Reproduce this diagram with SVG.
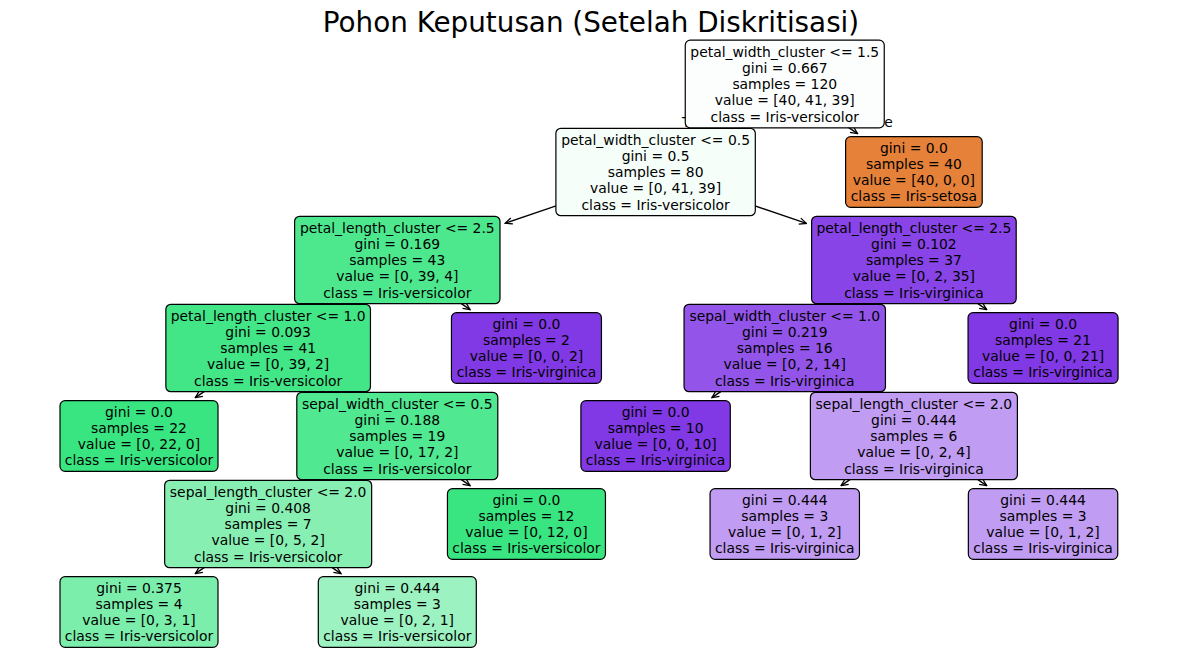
<svg xmlns="http://www.w3.org/2000/svg" width="1182" height="666" viewBox="0 0 1182 666">
<style>
text{font-family:"DejaVu Sans","Liberation Sans",sans-serif;fill:#000}
.t{font-size:13.9px;text-anchor:middle}
.title{font-size:27.8px;text-anchor:middle}
.lbl{font-size:13.9px}
.box{stroke:#000;stroke-width:1.2}
.edge{fill:none;stroke:#000;stroke-width:1.3;marker-end:url(#ah)}
</style>
<defs>
<marker id="ah" viewBox="-9 -5 10 10" refX="0" refY="0" markerWidth="10" markerHeight="10" markerUnits="userSpaceOnUse" orient="auto">
<path d="M-7,-3.2 L0,0 L-7,3.2" fill="none" stroke="#000" stroke-width="1.3"/>
</marker>
</defs>
<rect width="1182" height="666" fill="#fff"/>
<text class="title" x="591" y="32">Pohon Keputusan (Setelah Diskritisasi)</text>

<g id="connectors">
<path class="edge" d="M784.75,84 L724.2,125.2"/>
<path class="edge" d="M784.75,84 L857.6,133.6"/>
<path class="edge" d="M655.6,172 L505.2,223.2"/>
<path class="edge" d="M655.6,172 L806.4,223.4"/>
<path class="edge" d="M397.3,260 L336.8,301.2"/>
<path class="edge" d="M397.3,260 L470.1,309.6"/>
<path class="edge" d="M913.9,260 L853.4,301.2"/>
<path class="edge" d="M913.9,260 L986.7,309.6"/>
<path class="edge" d="M268.15,348 L195.3,397.6"/>
<path class="edge" d="M268.15,348 L328.7,389.2"/>
<path class="edge" d="M784.75,348 L711.9,397.6"/>
<path class="edge" d="M784.75,348 L845.3,389.2"/>
<path class="edge" d="M397.3,436 L336.8,477.2"/>
<path class="edge" d="M397.3,436 L470.1,485.6"/>
<path class="edge" d="M913.9,436 L841.1,485.6"/>
<path class="edge" d="M913.9,436 L986.7,485.6"/>
<path class="edge" d="M268.15,524 L195.3,573.6"/>
<path class="edge" d="M268.15,524 L341,573.6"/>
</g>

<g id="edge-labels">
<text class="lbl" x="682" y="127.3">True</text>
<text class="lbl" x="858" y="127.3">False</text>
</g>

<g id="n17"><rect class="box" x="60" y="576.7" width="158" height="70.6" rx="5" fill="#7beeab"/>
<text class="t"><tspan x="139" y="592.6">gini = 0.375</tspan><tspan x="139" y="608.9">samples = 4</tspan><tspan x="139" y="625.1">value = [0, 3, 1]</tspan><tspan x="139" y="641.4">class = Iris-versicolor</tspan></text></g>
<g id="n18"><rect class="box" x="318.3" y="576.7" width="158" height="70.6" rx="5" fill="#9cf2c0"/>
<text class="t"><tspan x="397.3" y="592.6">gini = 0.444</tspan><tspan x="397.3" y="608.9">samples = 3</tspan><tspan x="397.3" y="625.1">value = [0, 2, 1]</tspan><tspan x="397.3" y="641.4">class = Iris-versicolor</tspan></text></g>

<g id="n13"><rect class="box" x="164.65" y="480.3" width="207" height="87.4" rx="5" fill="#88efb3"/>
<text class="t"><tspan x="268.15" y="496.5">sepal_length_cluster &lt;= 2.0</tspan><tspan x="268.15" y="512.75">gini = 0.408</tspan><tspan x="268.15" y="529">samples = 7</tspan><tspan x="268.15" y="545.25">value = [0, 5, 2]</tspan><tspan x="268.15" y="561.5">class = Iris-versicolor</tspan></text></g>
<g id="n14"><rect class="box" x="447.45" y="488.7" width="158" height="70.6" rx="5" fill="#39e581"/>
<text class="t"><tspan x="526.45" y="504.6">gini = 0.0</tspan><tspan x="526.45" y="520.9">samples = 12</tspan><tspan x="526.45" y="537.1">value = [0, 12, 0]</tspan><tspan x="526.45" y="553.4">class = Iris-versicolor</tspan></text></g>
<g id="n15"><rect class="box" x="710.05" y="488.7" width="149.4" height="70.6" rx="5" fill="#c09cf2"/>
<text class="t"><tspan x="784.75" y="504.6">gini = 0.444</tspan><tspan x="784.75" y="520.9">samples = 3</tspan><tspan x="784.75" y="537.1">value = [0, 1, 2]</tspan><tspan x="784.75" y="553.4">class = Iris-virginica</tspan></text></g>
<g id="n16"><rect class="box" x="968.35" y="488.7" width="149.4" height="70.6" rx="5" fill="#c09cf2"/>
<text class="t"><tspan x="1043.05" y="504.6">gini = 0.444</tspan><tspan x="1043.05" y="520.9">samples = 3</tspan><tspan x="1043.05" y="537.1">value = [0, 1, 2]</tspan><tspan x="1043.05" y="553.4">class = Iris-virginica</tspan></text></g>

<g id="n9"><rect class="box" x="60" y="400.7" width="158" height="70.6" rx="5" fill="#39e581"/>
<text class="t"><tspan x="139" y="416.6">gini = 0.0</tspan><tspan x="139" y="432.9">samples = 22</tspan><tspan x="139" y="449.1">value = [0, 22, 0]</tspan><tspan x="139" y="465.4">class = Iris-versicolor</tspan></text></g>
<g id="n10"><rect class="box" x="296.8" y="392.3" width="201" height="87.4" rx="5" fill="#50e890"/>
<text class="t"><tspan x="397.3" y="408.5">sepal_width_cluster &lt;= 0.5</tspan><tspan x="397.3" y="424.75">gini = 0.188</tspan><tspan x="397.3" y="441">samples = 19</tspan><tspan x="397.3" y="457.25">value = [0, 17, 2]</tspan><tspan x="397.3" y="473.5">class = Iris-versicolor</tspan></text></g>
<g id="n11"><rect class="box" x="580.9" y="400.7" width="149.4" height="70.6" rx="5" fill="#8139e5"/>
<text class="t"><tspan x="655.6" y="416.6">gini = 0.0</tspan><tspan x="655.6" y="432.9">samples = 10</tspan><tspan x="655.6" y="449.1">value = [0, 0, 10]</tspan><tspan x="655.6" y="465.4">class = Iris-virginica</tspan></text></g>
<g id="n12"><rect class="box" x="810.4" y="392.3" width="207" height="87.4" rx="5" fill="#c09cf2"/>
<text class="t"><tspan x="913.9" y="408.5">sepal_length_cluster &lt;= 2.0</tspan><tspan x="913.9" y="424.75">gini = 0.444</tspan><tspan x="913.9" y="441">samples = 6</tspan><tspan x="913.9" y="457.25">value = [0, 2, 4]</tspan><tspan x="913.9" y="473.5">class = Iris-virginica</tspan></text></g>

<g id="n5"><rect class="box" x="165.85" y="304.3" width="204.6" height="87.4" rx="5" fill="#43e687"/>
<text class="t"><tspan x="268.15" y="320.5">petal_length_cluster &lt;= 1.0</tspan><tspan x="268.15" y="336.75">gini = 0.093</tspan><tspan x="268.15" y="353">samples = 41</tspan><tspan x="268.15" y="369.25">value = [0, 39, 2]</tspan><tspan x="268.15" y="385.5">class = Iris-versicolor</tspan></text></g>
<g id="n6"><rect class="box" x="451.45" y="312.7" width="150" height="70.6" rx="5" fill="#8139e5"/>
<text class="t"><tspan x="526.45" y="328.6">gini = 0.0</tspan><tspan x="526.45" y="344.9">samples = 2</tspan><tspan x="526.45" y="361.1">value = [0, 0, 2]</tspan><tspan x="526.45" y="377.4">class = Iris-virginica</tspan></text></g>
<g id="n7"><rect class="box" x="684.05" y="304.3" width="201.4" height="87.4" rx="5" fill="#9355e9"/>
<text class="t"><tspan x="784.75" y="320.5">sepal_width_cluster &lt;= 1.0</tspan><tspan x="784.75" y="336.75">gini = 0.219</tspan><tspan x="784.75" y="353">samples = 16</tspan><tspan x="784.75" y="369.25">value = [0, 2, 14]</tspan><tspan x="784.75" y="385.5">class = Iris-virginica</tspan></text></g>
<g id="n8"><rect class="box" x="968.05" y="312.7" width="150" height="70.6" rx="5" fill="#8139e5"/>
<text class="t"><tspan x="1043.05" y="328.6">gini = 0.0</tspan><tspan x="1043.05" y="344.9">samples = 21</tspan><tspan x="1043.05" y="361.1">value = [0, 0, 21]</tspan><tspan x="1043.05" y="377.4">class = Iris-virginica</tspan></text></g>

<g id="n3"><rect class="box" x="294.6" y="216.3" width="205.4" height="87.4" rx="5" fill="#4de88e"/>
<text class="t"><tspan x="397.3" y="232.5">petal_length_cluster &lt;= 2.5</tspan><tspan x="397.3" y="248.75">gini = 0.169</tspan><tspan x="397.3" y="265">samples = 43</tspan><tspan x="397.3" y="281.25">value = [0, 39, 4]</tspan><tspan x="397.3" y="297.5">class = Iris-versicolor</tspan></text></g>
<g id="n4"><rect class="box" x="811.6" y="216.3" width="204.6" height="87.4" rx="5" fill="#8844e6"/>
<text class="t"><tspan x="913.9" y="232.5">petal_length_cluster &lt;= 2.5</tspan><tspan x="913.9" y="248.75">gini = 0.102</tspan><tspan x="913.9" y="265">samples = 37</tspan><tspan x="913.9" y="281.25">value = [0, 2, 35]</tspan><tspan x="913.9" y="297.5">class = Iris-virginica</tspan></text></g>

<g id="n1"><rect class="box" x="555.9" y="128.3" width="199.4" height="87.4" rx="5" fill="#f5fef9"/>
<text class="t"><tspan x="655.6" y="144.5">petal_width_cluster &lt;= 0.5</tspan><tspan x="655.6" y="160.75">gini = 0.5</tspan><tspan x="655.6" y="177">samples = 80</tspan><tspan x="655.6" y="193.25">value = [0, 41, 39]</tspan><tspan x="655.6" y="209.5">class = Iris-versicolor</tspan></text></g>
<g id="n2"><rect class="box" x="845.6" y="136.7" width="136.6" height="70.6" rx="5" fill="#e58139"/>
<text class="t"><tspan x="913.9" y="152.6">gini = 0.0</tspan><tspan x="913.9" y="168.9">samples = 40</tspan><tspan x="913.9" y="185.1">value = [40, 0, 0]</tspan><tspan x="913.9" y="201.4">class = Iris-setosa</tspan></text></g>

<g id="n0"><rect class="box" x="685.25" y="40.2" width="199" height="87.6" rx="5" fill="#fcfefd"/>
<text class="t"><tspan x="784.75" y="56.5">petal_width_cluster &lt;= 1.5</tspan><tspan x="784.75" y="72.75">gini = 0.667</tspan><tspan x="784.75" y="89">samples = 120</tspan><tspan x="784.75" y="105.25">value = [40, 41, 39]</tspan><tspan x="784.75" y="121.5">class = Iris-versicolor</tspan></text></g>
</svg>
